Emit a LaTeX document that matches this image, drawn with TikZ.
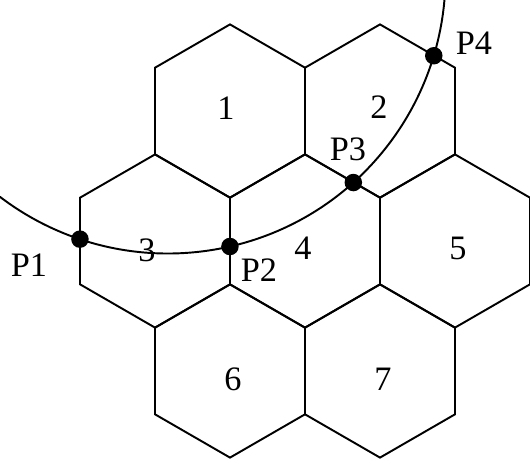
\documentclass[tikz,border=0pt]{standalone}
\usepackage{fontspec}
\setmainfont{Liberation Serif}
\usepackage{tikz}

\begin{document}
\begin{tikzpicture}[x=0.02cm, y=-0.02cm,
  every node/.style={font=\fontsize{19.5}{21}\selectfont},
  cell/.style={line width=1.1pt, line join=miter},
  curve/.style={line width=1.1pt},
  pt/.style={circle, fill=black, inner sep=0pt, minimum size=0.35cm},
  lbl/.style={inner sep=0pt}
]
\useasboundingbox (0,0) rectangle (530,458);

% hexagonal cells
\foreach \cx/\cy in {230/111, 380/111, 155/241, 305/241, 455/241, 230/371, 380/371}
  \draw[cell, shift={(\cx,\cy)}] (0,-86.6) -- (75,-43.3) -- (75,43.3) -- (0,86.6)
    -- (-75,43.3) -- (-75,-43.3) -- cycle;

% cell numbers
\node[lbl] (c1) at (226,108) {1};
\node[lbl] (c2) at (379,107) {2};
\node[lbl] (c3) at (147,250) {3};
\node[lbl] (c4) at (303,248) {4};
\node[lbl] (c5) at (458,248) {5};
\node[lbl] (c6) at (233,379) {6};
\node[lbl] (c7) at (383,379) {7};

% the path
\draw[curve] ([shift={(168,-24)}]127.3:277.5) arc[start angle=127.3, end angle=4.9, radius=277.5];

% crossing points
\node[pt] (p1) at ([shift={(168,-24)}]108.5:277.5) {};
\node[pt] (p2) at ([shift={(168,-24)}]77.1:277.5) {};
\node[pt] (p3) at ([shift={(168,-24)}]48.1:277.5) {};
\node[pt] (p4) at ([shift={(168,-24)}]16.7:277.5) {};

\node[lbl] (t1) at (29,265) {P1};
\node[lbl] (t2) at (259,270) {P2};
\node[lbl] (t3) at (348,149) {P3};
\node[lbl] (t4) at (474,43) {P4};
\end{tikzpicture}
\end{document}
